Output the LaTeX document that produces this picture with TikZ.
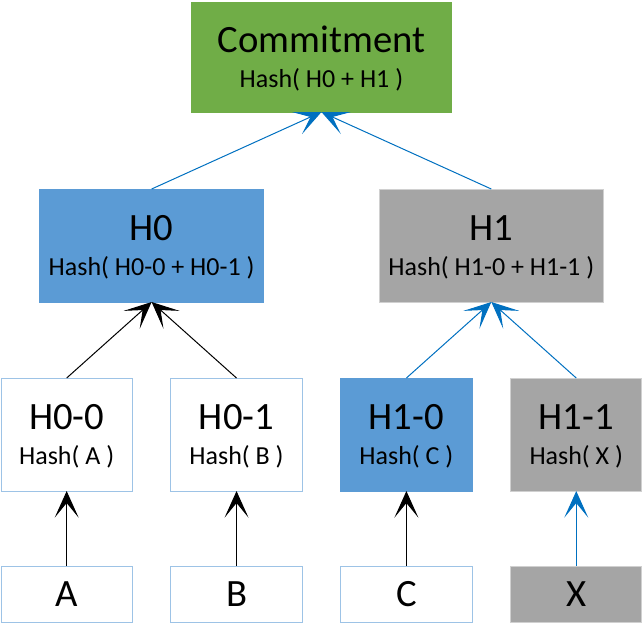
\documentclass[tikz,border=0pt]{standalone}
\usepackage{fontspec}
\setmainfont{Carlito}
\usetikzlibrary{arrows.meta,positioning,calc}
\definecolor{rootgreen}{HTML}{70AD47}
\definecolor{hblue}{HTML}{5B9BD5}
\definecolor{hgray}{HTML}{A5A5A5}
\definecolor{edgeblue}{HTML}{9DC3E6}
\definecolor{edgegray}{HTML}{D0D0D0}
\definecolor{linkblue}{HTML}{0070C0}
\newcommand{\bigtxt}{\fontsize{29}{30}\selectfont}
\newcommand{\smalltxt}{\fontsize{19.5}{26}\selectfont}
\tikzset{
  box/.style={rectangle, draw=edgeblue, fill=white, inner sep=0pt, outer sep=0pt,
    align=center, font=\smalltxt, text depth=0pt, line width=0.75pt},
  leafbox/.style={box, minimum width=98.5pt, minimum height=84.75pt},
  databox/.style={box, minimum width=98.5pt, minimum height=42pt, font=\bigtxt},
  midbox/.style={box, minimum width=168pt, minimum height=84.75pt},
  rootbox/.style={box, minimum width=195pt, minimum height=82.5pt, fill=rootgreen, draw=rootgreen},
  bluefill/.style={fill=hblue, draw=hblue},
  grayfill/.style={fill=hgray, draw=edgegray},
  link/.style={line width=0.75pt, -{Stealth[length=20pt,width=18pt,inset=11pt]}},
}
\begin{document}
\begin{tikzpicture}
    \useasboundingbox (0,0) rectangle (482.25pt,-478.5pt);
    % Leaf hashes
    \node[leafbox] (H00) at (50pt,-325.9pt) {{\bigtxt H0-0}\\Hash( A )};
    \node[leafbox, right=28.9pt of H00] (H01) {{\bigtxt H0-1}\\Hash( B )};
    \node[leafbox, bluefill, right=28.9pt of H01] (H10) {{\bigtxt H1-0}\\Hash( C )};
    \node[leafbox, grayfill, right=28.9pt of H10] (H11) {{\bigtxt H1-1}\\Hash( X )};

    % Data blocks
    \node[databox, below=56.25pt of H00] (A) {A};
    \node[databox, below=56.25pt of H01] (B) {B};
    \node[databox, below=56.25pt of H10] (C) {C};
    \node[databox, grayfill, below=56.25pt of H11] (X) {X};

    % Middle level
    \coordinate (m0) at ($(H00.north)!0.5!(H01.north)$);
    \coordinate (m1) at ($(H10.north)!0.5!(H11.north)$);
    \node[midbox, bluefill, above=57pt of m0] (H0) {{\bigtxt H0}\\Hash( H0-0 + H0-1 )};
    \node[midbox, grayfill, above=57pt of m1] (H1) {{\bigtxt H1}\\Hash( H1-0 + H1-1 )};

    % Root
    \coordinate (mr) at ($(H0.north)!0.5!(H1.north)$);
    \node[rootbox, above=57.75pt of mr] (root) {{\bigtxt Commitment}\\Hash( H0 + H1 )};

    \draw[link] (A) -- (H00);
    \draw[link] (B) -- (H01);
    \draw[link] (C) -- (H10);
    \draw[link, linkblue] (X) -- (H11);
    \draw[link] (H00.north) -- (H0.south);
    \draw[link] (H01.north) -- (H0.south);
    \draw[link, linkblue] (H10.north) -- (H1.south);
    \draw[link, linkblue] (H11.north) -- (H1.south);
    \draw[link, linkblue] (H0.north) -- (root.south);
    \draw[link, linkblue] (H1.north) -- (root.south);
\end{tikzpicture}
\end{document}
